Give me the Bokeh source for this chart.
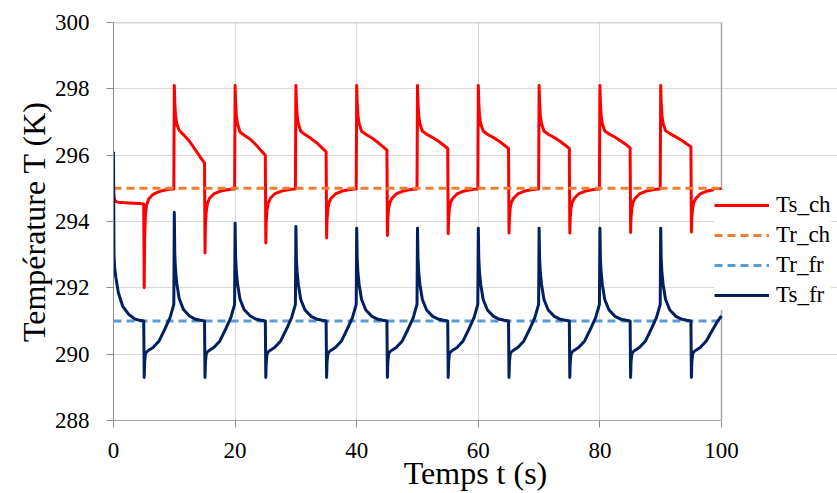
from bokeh.plotting import figure
from bokeh.models import Legend, LegendItem, FixedTicker, Range1d
from bokeh.embed import file_html
from bokeh.resources import INLINE

# ---------------- data ----------------
time_s = [
    0, 0.08, 0.2, 0.4, 0.8, 1.5, 2.5, 3.5, 4.3, 4.97, 5.05, 5.12, 5.25, 5.45, 5.8, 6.5, 7.5, 8.5, 9.3, 9.92,
    10, 10.08, 10.2, 10.4, 10.8, 11.5, 12.5, 13.5, 14.3, 14.97, 15.05, 15.12, 15.25, 15.45, 15.8, 16.5, 17.5, 18.5, 19.3, 19.92,
    20, 20.08, 20.2, 20.4, 20.8, 21.5, 22.5, 23.5, 24.3, 24.97, 25.05, 25.12, 25.25, 25.45, 25.8, 26.5, 27.5, 28.5, 29.3, 29.92,
    30, 30.08, 30.2, 30.4, 30.8, 31.5, 32.5, 33.5, 34.3, 34.97, 35.05, 35.12, 35.25, 35.45, 35.8, 36.5, 37.5, 38.5, 39.3, 39.92,
    40, 40.08, 40.2, 40.4, 40.8, 41.5, 42.5, 43.5, 44.3, 44.97, 45.05, 45.12, 45.25, 45.45, 45.8, 46.5, 47.5, 48.5, 49.3, 49.92,
    50, 50.08, 50.2, 50.4, 50.8, 51.5, 52.5, 53.5, 54.3, 54.97, 55.05, 55.12, 55.25, 55.45, 55.8, 56.5, 57.5, 58.5, 59.3, 59.92,
    60, 60.08, 60.2, 60.4, 60.8, 61.5, 62.5, 63.5, 64.3, 64.97, 65.05, 65.12, 65.25, 65.45, 65.8, 66.5, 67.5, 68.5, 69.3, 69.92,
    70, 70.08, 70.2, 70.4, 70.8, 71.5, 72.5, 73.5, 74.3, 74.97, 75.05, 75.12, 75.25, 75.45, 75.8, 76.5, 77.5, 78.5, 79.3, 79.92,
    80, 80.08, 80.2, 80.4, 80.8, 81.5, 82.5, 83.5, 84.3, 84.97, 85.05, 85.12, 85.25, 85.45, 85.8, 86.5, 87.5, 88.5, 89.3, 89.92,
    90, 90.08, 90.2, 90.4, 90.8, 91.5, 92.5, 93.5, 94.3, 94.97, 95.05, 95.12, 95.25, 95.45, 95.8, 96.5, 97.5, 98.5, 99.3, 100,
]

ts_ch = [
    295.0, 294.75, 294.65, 294.6, 294.58, 294.57, 294.56, 294.55, 294.54, 294.53, 292.0, 293.5, 294.2, 294.5, 294.68, 294.82, 294.9, 294.95, 294.97, 294.98,
    298.1, 297.6, 297.2, 296.95, 296.75, 296.62, 296.42, 296.15, 295.93, 295.77, 293.05, 293.9, 294.3, 294.55, 294.7, 294.83, 294.91, 294.95, 294.97, 294.98,
    298.1, 297.6, 297.2, 296.95, 296.7, 296.6, 296.48, 296.3, 296.13, 296.0, 293.35, 294.0, 294.35, 294.55, 294.7, 294.83, 294.91, 294.95, 294.97, 294.98,
    298.1, 297.6, 297.2, 296.95, 296.72, 296.62, 296.5, 296.36, 296.22, 296.1, 293.5, 294.05, 294.38, 294.57, 294.7, 294.83, 294.91, 294.95, 294.97, 294.98,
    298.1, 297.6, 297.2, 296.95, 296.72, 296.63, 296.52, 296.38, 296.26, 296.15, 293.58, 294.08, 294.4, 294.57, 294.7, 294.83, 294.91, 294.95, 294.97, 294.98,
    298.1, 297.6, 297.2, 296.95, 296.73, 296.63, 296.53, 296.41, 296.3, 296.2, 293.63, 294.1, 294.4, 294.58, 294.7, 294.83, 294.91, 294.95, 294.97, 294.98,
    298.1, 297.6, 297.2, 296.95, 296.73, 296.63, 296.53, 296.41, 296.3, 296.2, 293.65, 294.1, 294.4, 294.58, 294.7, 294.83, 294.91, 294.95, 294.97, 294.98,
    298.1, 297.6, 297.2, 296.95, 296.73, 296.63, 296.53, 296.41, 296.3, 296.2, 293.65, 294.1, 294.4, 294.58, 294.7, 294.83, 294.91, 294.95, 294.97, 294.98,
    298.1, 297.6, 297.2, 296.95, 296.73, 296.64, 296.54, 296.42, 296.32, 296.22, 293.67, 294.1, 294.4, 294.58, 294.7, 294.83, 294.91, 294.95, 294.97, 294.98,
    298.1, 297.6, 297.2, 296.95, 296.74, 296.65, 296.55, 296.44, 296.34, 296.25, 293.68, 294.1, 294.4, 294.58, 294.7, 294.83, 294.91, 294.95, 294.97, 294.99,
]

ts_fr = [
    296.1, 293.0, 292.6, 292.3, 291.85, 291.45, 291.2, 291.06, 291.02, 291.0, 289.3, 289.75, 290.0, 290.07, 290.12, 290.2, 290.4, 290.78, 291.1, 291.5,
    294.28, 293.0, 292.55, 292.15, 291.68, 291.35, 291.15, 291.05, 291.02, 291.0, 289.3, 289.75, 290.0, 290.07, 290.12, 290.2, 290.4, 290.78, 291.1, 291.5,
    293.95, 292.95, 292.5, 292.12, 291.66, 291.34, 291.15, 291.05, 291.02, 291.0, 289.3, 289.75, 290.0, 290.07, 290.12, 290.2, 290.4, 290.78, 291.1, 291.5,
    293.85, 292.9, 292.48, 292.1, 291.65, 291.33, 291.14, 291.05, 291.02, 291.0, 289.3, 289.75, 290.0, 290.07, 290.12, 290.2, 290.4, 290.78, 291.1, 291.5,
    293.8, 292.9, 292.47, 292.1, 291.65, 291.33, 291.14, 291.05, 291.02, 291.0, 289.3, 289.75, 290.0, 290.07, 290.12, 290.2, 290.4, 290.78, 291.1, 291.5,
    293.8, 292.9, 292.47, 292.1, 291.65, 291.33, 291.14, 291.05, 291.02, 291.0, 289.3, 289.75, 290.0, 290.07, 290.12, 290.2, 290.4, 290.78, 291.1, 291.5,
    293.8, 292.9, 292.47, 292.1, 291.65, 291.33, 291.14, 291.05, 291.02, 291.0, 289.3, 289.75, 290.0, 290.07, 290.12, 290.2, 290.4, 290.78, 291.1, 291.5,
    293.8, 292.9, 292.47, 292.1, 291.65, 291.33, 291.14, 291.05, 291.02, 291.0, 289.3, 289.75, 290.0, 290.07, 290.12, 290.2, 290.4, 290.78, 291.1, 291.5,
    293.8, 292.9, 292.47, 292.1, 291.65, 291.33, 291.14, 291.05, 291.02, 291.0, 289.3, 289.75, 290.0, 290.07, 290.12, 290.2, 290.4, 290.78, 291.1, 291.5,
    293.8, 292.9, 292.47, 292.1, 291.65, 291.33, 291.14, 291.05, 291.02, 291.0, 289.3, 289.75, 290.0, 290.07, 290.12, 290.2, 290.4, 290.72, 290.98, 291.15,
]

tr_time = [0, 100]
tr_ch = [295.0, 295.0]
tr_fr = [291.0, 291.0]

x_ticks = [0, 20, 40, 60, 80, 100]
y_ticks = [288, 290, 292, 294, 296, 298, 300]
x_min, x_max = 0, 100
y_min, y_max = 288, 300

series_names = ["Ts_ch", "Tr_ch", "Tr_fr", "Ts_fr"]

# ---------------- figure ----------------
FONT = "Liberation Serif"
W, H = 837, 493
LEFT, TOP, PLOT_W, BOTTOM = 113, 22, 608, 73
# frame reaches the right edge so the legend (which overlaps the plot area in
# the reference) is not clipped; the data axis itself stops at 100.
x_end = x_max + (x_max - x_min) * (W - LEFT - PLOT_W) / PLOT_W

p = figure(
    width=W, height=H,
    output_backend="svg", toolbar_location=None,
    x_range=Range1d(x_min, x_end), y_range=Range1d(y_min, y_max),
    min_border_left=LEFT, min_border_right=0,
    min_border_top=TOP, min_border_bottom=BOTTOM,
    background_fill_color="white", border_fill_color="white",
)
p.outline_line_color = None

# axes
p.xaxis.ticker = FixedTicker(ticks=x_ticks)
p.yaxis.ticker = FixedTicker(ticks=y_ticks)
p.xaxis.bounds = (x_min, x_max)
p.axis.major_label_text_font = FONT
p.axis.major_label_text_font_size = "23px"
p.axis.major_label_text_font_style = "normal"
p.axis.major_label_text_color = "#000000"
p.axis.axis_label_text_font = FONT
p.axis.axis_label_text_font_size = "32px"
p.axis.axis_label_text_font_style = "normal"
p.axis.axis_label_text_color = "#000000"
p.axis.minor_tick_line_color = None
p.axis.major_tick_in = 0
p.axis.major_tick_out = 7
p.axis.major_tick_line_color = "#8C8C8C"

p.xaxis.axis_line_color = "#A6A6A6"
p.yaxis.axis_line_color = "#8C8C8C"
p.xaxis.axis_label = "Temps t (s)"
p.yaxis.axis_label = "Température T (K)"
p.xaxis.major_label_standoff = 15
p.xaxis.axis_label_standoff = -6
p.yaxis.major_label_standoff = 17
p.yaxis.axis_label_standoff = 0

p.xgrid.grid_line_color = "#D9D9D9"
p.ygrid.grid_line_color = "#D9D9D9"
p.ygrid.bounds = (x_min, x_max)

# plot-area border (top and right), as in the reference
p.segment(x0=[x_min, x_max], y0=[y_max, y_min], x1=[x_max, x_max], y1=[y_max, y_max],
          line_color="#A6A6A6", line_width=1.5)

# series
r_ts_ch = p.line(time_s, ts_ch, line_color="#FF0000", line_width=3, line_join="round")
r_tr_ch = p.line(tr_time, tr_ch, line_color="#ED7D31", line_width=3, line_dash="8 5")
r_tr_fr = p.line(tr_time, tr_fr, line_color="#5B9BD5", line_width=3, line_dash="8 5")
r_ts_fr = p.line(time_s, ts_fr, line_color="#002060", line_width=3, line_join="round")

legend = Legend(
    items=[
        LegendItem(label=series_names[0], renderers=[r_ts_ch]),
        LegendItem(label=series_names[1], renderers=[r_tr_ch]),
        LegendItem(label=series_names[2], renderers=[r_tr_fr]),
        LegendItem(label=series_names[3], renderers=[r_ts_fr]),
    ],
    location=(601, 110),
    label_text_font=FONT, label_text_font_size="23px", label_text_color="#000000",
    label_text_font_style="normal",
    glyph_width=55, glyph_height=30, label_height=30, label_standoff=7,
    spacing=0, padding=2, margin=0,
    border_line_color=None, background_fill_color="white", background_fill_alpha=1.0,
)
p.add_layout(legend)

open("out.html", "w").write(file_html(p, INLINE))
